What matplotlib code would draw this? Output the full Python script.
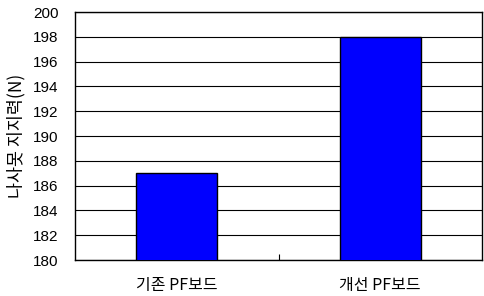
import matplotlib
matplotlib.use("Agg")
from matplotlib import pyplot as plt

plt.rcParams['font.family'] = ['Liberation Sans', 'Noto Sans CJK KR', 'DejaVu Sans']

categories = ["기존 PF보드", "개선 PF보드"]
values = [187, 198]
yticks = list(range(180, 201, 2))

fig = plt.figure(figsize=(4.84, 2.96), dpi=100)
ax = fig.add_axes([75/484, 1 - 260/296, 407/484, 248/296])

x = [0, 1]
ax.bar(x, values, width=0.4, color="#0000FF", edgecolor="black", linewidth=1, zorder=3)

ax.set_xlim(-0.5, 1.5)
ax.set_ylim(180, 200)
ax.set_yticks(yticks)
ax.set_yticklabels([str(v) for v in yticks], fontsize=11)
ax.yaxis.grid(True, color="black", linewidth=0.8, zorder=0)
ax.tick_params(axis="y", length=0, pad=12)

ax.set_xticks(x)
ax.set_xticklabels(categories, fontsize=11.5, family=['Noto Sans CJK KR', 'DejaVu Sans'])
ax.tick_params(axis="x", length=0, pad=12)
ax.set_xticks([0.5], minor=True)
ax.tick_params(axis="x", which="minor", direction="in", length=4, width=0.8)

for s in ax.spines.values():
    s.set_linewidth(1)
    s.set_color("black")

ax.set_ylabel("나사못 지지력(N)", fontsize=12.5, family=['Noto Sans CJK KR', 'DejaVu Sans'], labelpad=5)

fig.savefig("out.png", dpi=100)
